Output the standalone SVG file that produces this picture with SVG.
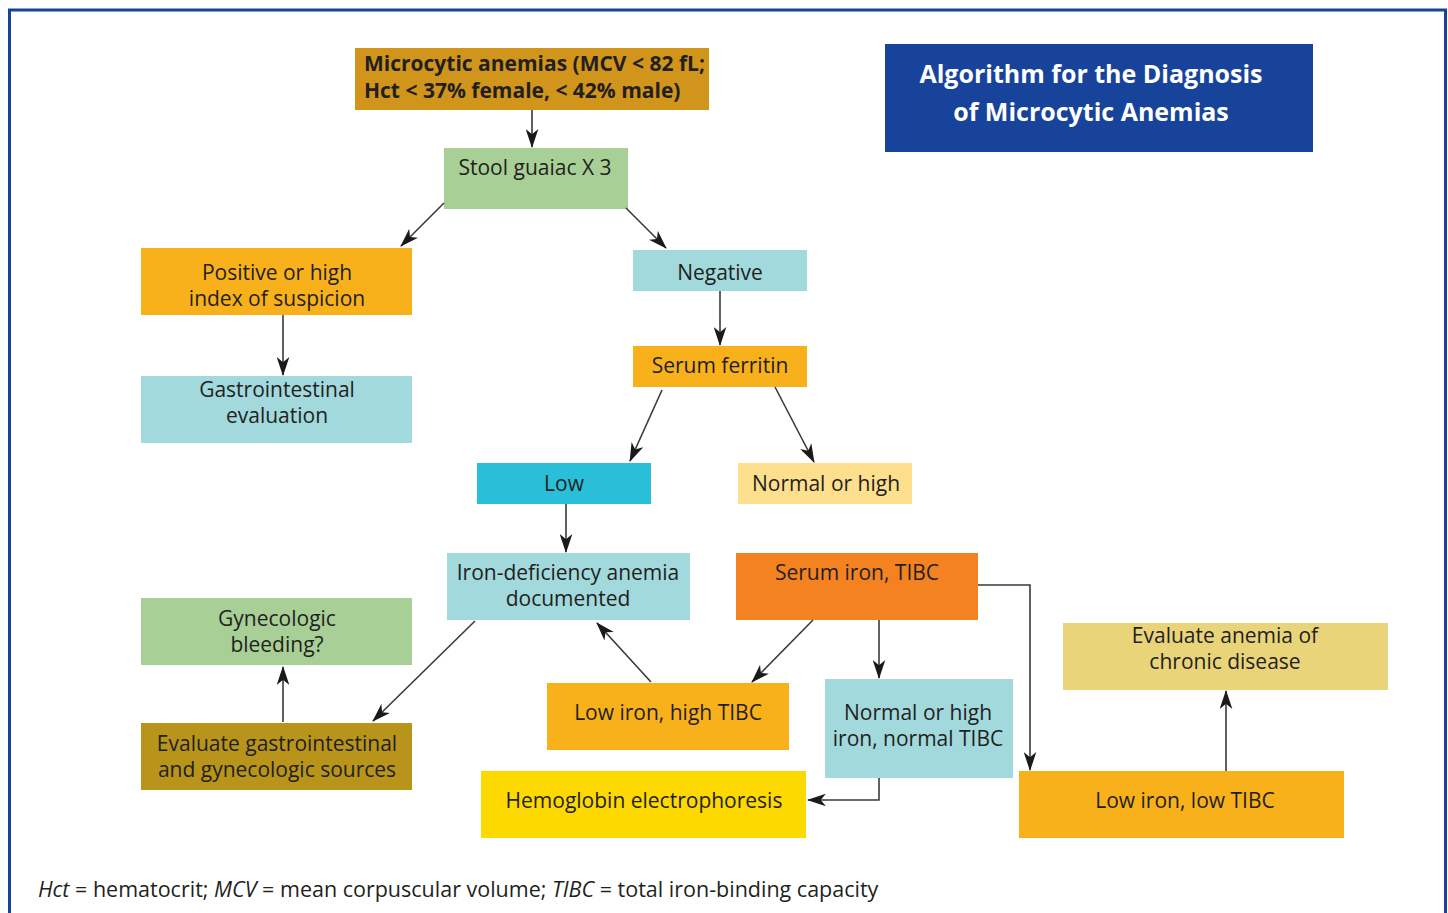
<svg xmlns="http://www.w3.org/2000/svg" width="1448" height="913" viewBox="0 0 1448 913">
<defs>
<marker id="ah" viewBox="0 0 18 12" refX="17" refY="6" markerWidth="19" markerHeight="13" markerUnits="userSpaceOnUse" orient="auto">
<path d="M0,0 L18,6 L0,12 L5,6 z" fill="#1a1a1a"/>
</marker>
<style>
.t{font-family:"Open Sans","Liberation Sans",sans-serif;font-size:21px;fill:#231F20;text-anchor:middle}
.b{font-weight:bold}
.w{fill:#ffffff;font-size:25px}
.c{fill:none;stroke:#3a3a3a;stroke-width:1.6;marker-end:url(#ah)}
.fn{font-family:"Open Sans","Liberation Sans",sans-serif;font-size:21.5px;fill:#231F20}
</style>
</defs>
<rect x="0" y="0" width="1448" height="913" fill="#ffffff"/>
<path d="M9.5,913 V10 H1445.5 V913" fill="none" stroke="#17449A" stroke-width="3"/>

<g id="n-title">
<rect x="885" y="44" width="428" height="108" fill="#17449A"/>
<text class="t b w" x="1091" y="83">Algorithm for the Diagnosis</text>
<text class="t b w" x="1091" y="121">of Microcytic Anemias</text>
</g>
<g id="n-microcytic">
<rect x="355" y="48" width="354" height="62" fill="#D0951A"/>
<text class="t b" x="364" y="71" style="text-anchor:start">Microcytic anemias (MCV &lt; 82 fL;</text>
<text class="t b" x="364" y="98" style="text-anchor:start">Hct &lt; 37% female, &lt; 42% male)</text>
</g>
<g id="n-stool">
<rect x="444" y="148" width="184" height="61" fill="#A8CF96"/>
<text class="t" x="535" y="175">Stool guaiac X 3</text>
</g>
<g id="n-positive">
<rect x="141" y="248" width="271" height="67" fill="#F9B11B"/>
<text class="t" x="277" y="280">Positive or high</text>
<text class="t" x="277" y="306">index of suspicion</text>
</g>
<g id="n-gi">
<rect x="141" y="376" width="271" height="67" fill="#A1D9DC"/>
<text class="t" x="277" y="397">Gastrointestinal</text>
<text class="t" x="277" y="423">evaluation</text>
</g>
<g id="n-negative">
<rect x="633" y="250" width="174" height="41" fill="#A1D9DC"/>
<text class="t" x="720" y="280">Negative</text>
</g>
<g id="n-ferritin">
<rect x="633" y="346" width="174" height="41" fill="#F9B11B"/>
<text class="t" x="720" y="373">Serum ferritin</text>
</g>
<g id="n-low">
<rect x="477" y="463" width="174" height="41" fill="#29BFD9"/>
<text class="t" x="564" y="491">Low</text>
</g>
<g id="n-normalhigh">
<rect x="738" y="463" width="174" height="41" fill="#FEDF8E"/>
<text class="t" x="826" y="491">Normal or high</text>
</g>
<g id="n-irondef">
<rect x="447" y="553" width="243" height="67" fill="#A1D9DC"/>
<text class="t" x="568" y="580">Iron-deficiency anemia</text>
<text class="t" x="568" y="606">documented</text>
</g>
<g id="n-serumiron">
<rect x="736" y="553" width="242" height="67" fill="#F58220"/>
<text class="t" x="857" y="580">Serum iron, TIBC</text>
</g>
<g id="n-gyn">
<rect x="141" y="598" width="271" height="67" fill="#A8CF96"/>
<text class="t" x="277" y="626">Gynecologic</text>
<text class="t" x="277" y="652">bleeding?</text>
</g>
<g id="n-evalgi">
<rect x="141" y="723" width="271" height="67" fill="#B8951A"/>
<text class="t" x="277" y="751">Evaluate gastrointestinal</text>
<text class="t" x="277" y="777">and gynecologic sources</text>
</g>
<g id="n-lowhigh">
<rect x="547" y="683" width="242" height="67" fill="#F9B11B"/>
<text class="t" x="668" y="720">Low iron, high TIBC</text>
</g>
<g id="n-normaliron">
<rect x="825" y="679" width="188" height="99" fill="#A1D9DC"/>
<text class="t" x="918" y="720">Normal or high</text>
<text class="t" x="918" y="746">iron, normal TIBC</text>
</g>
<g id="n-hemo">
<rect x="481" y="771" width="325" height="67" fill="#FDD900"/>
<text class="t" x="644" y="808">Hemoglobin electrophoresis</text>
</g>
<g id="n-chronic">
<rect x="1063" y="623" width="325" height="67" fill="#EAD47A"/>
<text class="t" x="1225" y="643">Evaluate anemia of</text>
<text class="t" x="1225" y="669">chronic disease</text>
</g>
<g id="n-lowlow">
<rect x="1019" y="771" width="325" height="67" fill="#F9B11B"/>
<text class="t" x="1185" y="808">Low iron, low TIBC</text>
</g>

<g id="connectors">
<path class="c" d="M532,110 V147"/>
<path class="c" d="M444,203 L401,246"/>
<path class="c" d="M626,208 L666,248"/>
<path class="c" d="M283,315 V375"/>
<path class="c" d="M720,291 V345"/>
<path class="c" d="M662,390 L630,461"/>
<path class="c" d="M775,387 L814,462"/>
<path class="c" d="M566,504 V552"/>
<path class="c" d="M475,621 L373,721"/>
<path class="c" d="M283,722 V667"/>
<path class="c" d="M651,682 L597,623"/>
<path class="c" d="M813,620 L752,682"/>
<path class="c" d="M879,620 V678"/>
<path class="c" d="M978,585 H1030 V770"/>
<path class="c" d="M879,778 V800 H808"/>
<path class="c" d="M1226,771 V691"/>
</g>

<text class="fn" x="38" y="897"><tspan font-style="italic">Hct</tspan> = hematocrit; <tspan font-style="italic">MCV</tspan> = mean corpuscular volume; <tspan font-style="italic">TIBC</tspan> = total iron-binding capacity</text>
</svg>
